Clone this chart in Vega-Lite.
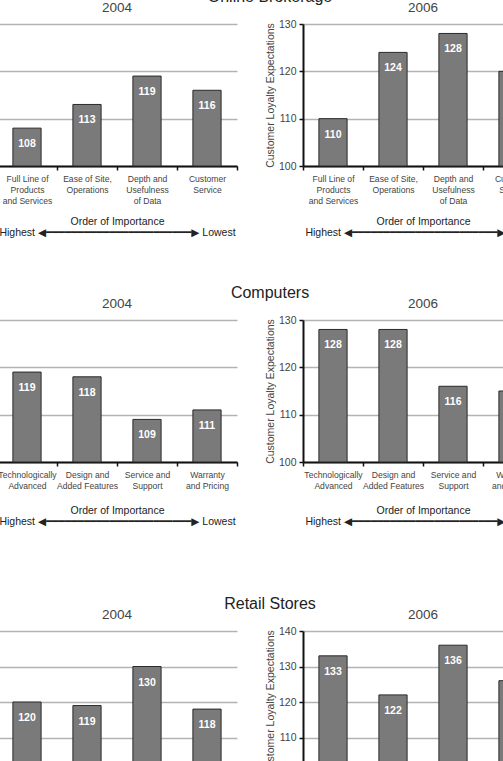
{
  "$schema": "https://vega.github.io/schema/vega-lite/v6.json",
  "padding": {"top": -12, "left": -4, "right": 0, "bottom": 0},
  "datasets": {
    "brokerage": [
      {"year": 2004, "attribute": "Full Line of|Products|and Services", "value": 108},
      {"year": 2004, "attribute": "Ease of Site,|Operations", "value": 113},
      {"year": 2004, "attribute": "Depth and|Usefulness|of Data", "value": 119},
      {"year": 2004, "attribute": "Customer|Service", "value": 116},
      {"year": 2006, "attribute": "Full Line of|Products|and Services", "value": 110},
      {"year": 2006, "attribute": "Ease of Site,|Operations", "value": 124},
      {"year": 2006, "attribute": "Depth and|Usefulness|of Data", "value": 128},
      {"year": 2006, "attribute": "Customer|Service", "value": 120}
    ],
    "computers": [
      {"year": 2004, "attribute": "Technologically|Advanced", "value": 119},
      {"year": 2004, "attribute": "Design and|Added Features", "value": 118},
      {"year": 2004, "attribute": "Service and|Support", "value": 109},
      {"year": 2004, "attribute": "Warranty|and Pricing", "value": 111},
      {"year": 2006, "attribute": "Technologically|Advanced", "value": 128},
      {"year": 2006, "attribute": "Design and|Added Features", "value": 128},
      {"year": 2006, "attribute": "Service and|Support", "value": 116},
      {"year": 2006, "attribute": "Warranty|and Pricing", "value": 115}
    ],
    "retail": [
      {"year": 2004, "attribute": "Attribute 1", "value": 120},
      {"year": 2004, "attribute": "Attribute 2", "value": 119},
      {"year": 2004, "attribute": "Attribute 3", "value": 130},
      {"year": 2004, "attribute": "Attribute 4", "value": 118},
      {"year": 2006, "attribute": "Attribute 1", "value": 133},
      {"year": 2006, "attribute": "Attribute 2", "value": 122},
      {"year": 2006, "attribute": "Attribute 3", "value": 136},
      {"year": 2006, "attribute": "Attribute 4", "value": 126}
    ]
  },
  "vconcat": [
    {
      "spacing": 46,
      "vconcat": [
        {
          "title": {"text": "Online Brokerage", "fontSize": 16, "fontWeight": "normal", "color": "#222", "anchor": "middle", "offset": -4},
          "spacing": 27,
          "hconcat": [
            {
              "title": {"text": "2004", "fontSize": 13.5, "fontWeight": "normal", "color": "#444", "frame": "group", "baseline": "bottom", "offset": -4},
              "width": 240, "height": 142,
              "data": {"name": "brokerage"},
              "transform": [{"filter": "datum.year == 2004"}],
              "encoding": {
                "x": {"field": "attribute", "type": "nominal", "sort": null, "scale": {"paddingInner": 0, "paddingOuter": 0},
                  "axis": {"title": ["Order of Importance", "Highest ◀━━━━━━━━━━━━━━━━━━━━━━━▶ Lowest"], "titlePadding": 11.5}},
                "y": {"field": "value", "type": "quantitative", "scale": {"domain": [100, 130], "nice": false, "zero": false},
                  "axis": {"values": [100, 110, 120, 130], "grid": true, "domain": false, "ticks": false, "labels": false, "title": null}}
              },
              "layer": [
                {"mark": {"type": "bar", "width": {"band": 0.47}, "fill": "#7a7a7a", "stroke": "#2a2a2a", "strokeWidth": 1}, "encoding": {"y2": {"datum": 100}}},
                {"mark": {"type": "text", "baseline": "middle", "dy": 16, "color": "white", "fontWeight": "bold", "fontSize": 10.5}, "encoding": {"text": {"field": "value"}}}
              ]
            },
            {
              "title": {"text": "2006", "fontSize": 13.5, "fontWeight": "normal", "color": "#444", "frame": "group", "baseline": "bottom", "offset": -9},
              "width": 240, "height": 142,
              "data": {"name": "brokerage"},
              "transform": [{"filter": "datum.year == 2006"}],
              "encoding": {
                "x": {"field": "attribute", "type": "nominal", "sort": null, "scale": {"paddingInner": 0, "paddingOuter": 0},
                  "axis": {"title": ["Order of Importance", "Highest ◀━━━━━━━━━━━━━━━━━━━━━━━▶ Lowest"], "titlePadding": 11.5}},
                "y": {"field": "value", "type": "quantitative", "scale": {"domain": [100, 130], "nice": false, "zero": false},
                  "axis": {"values": [100, 110, 120, 130], "grid": true, "title": "Customer Loyalty Expectations"}}
              },
              "layer": [
                {"mark": {"type": "bar", "width": {"band": 0.47}, "fill": "#7a7a7a", "stroke": "#2a2a2a", "strokeWidth": 1}, "encoding": {"y2": {"datum": 100}}},
                {"mark": {"type": "text", "baseline": "middle", "dy": 16, "color": "white", "fontWeight": "bold", "fontSize": 10.5}, "encoding": {"text": {"field": "value"}}}
              ]
            }
          ]
        },
        {
          "title": {"text": "Computers", "fontSize": 16, "fontWeight": "normal", "color": "#222", "anchor": "middle", "offset": -4},
          "spacing": 27,
          "hconcat": [
            {
              "title": {"text": "2004", "fontSize": 13.5, "fontWeight": "normal", "color": "#444", "frame": "group", "baseline": "bottom", "offset": -4},
              "width": 240, "height": 142,
              "data": {"name": "computers"},
              "transform": [{"filter": "datum.year == 2004"}],
              "encoding": {
                "x": {"field": "attribute", "type": "nominal", "sort": null, "scale": {"paddingInner": 0, "paddingOuter": 0},
                  "axis": {"title": ["Order of Importance", "Highest ◀━━━━━━━━━━━━━━━━━━━━━━━▶ Lowest"], "titlePadding": 16}},
                "y": {"field": "value", "type": "quantitative", "scale": {"domain": [100, 130], "nice": false, "zero": false},
                  "axis": {"values": [100, 110, 120, 130], "grid": true, "domain": false, "ticks": false, "labels": false, "title": null}}
              },
              "layer": [
                {"mark": {"type": "bar", "width": {"band": 0.47}, "fill": "#7a7a7a", "stroke": "#2a2a2a", "strokeWidth": 1}, "encoding": {"y2": {"datum": 100}}},
                {"mark": {"type": "text", "baseline": "middle", "dy": 16, "color": "white", "fontWeight": "bold", "fontSize": 10.5}, "encoding": {"text": {"field": "value"}}}
              ]
            },
            {
              "title": {"text": "2006", "fontSize": 13.5, "fontWeight": "normal", "color": "#444", "frame": "group", "baseline": "bottom", "offset": -9},
              "width": 240, "height": 142,
              "data": {"name": "computers"},
              "transform": [{"filter": "datum.year == 2006"}],
              "encoding": {
                "x": {"field": "attribute", "type": "nominal", "sort": null, "scale": {"paddingInner": 0, "paddingOuter": 0},
                  "axis": {"title": ["Order of Importance", "Highest ◀━━━━━━━━━━━━━━━━━━━━━━━▶ Lowest"], "titlePadding": 16}},
                "y": {"field": "value", "type": "quantitative", "scale": {"domain": [100, 130], "nice": false, "zero": false},
                  "axis": {"values": [100, 110, 120, 130], "grid": true, "title": "Customer Loyalty Expectations"}}
              },
              "layer": [
                {"mark": {"type": "bar", "width": {"band": 0.47}, "fill": "#7a7a7a", "stroke": "#2a2a2a", "strokeWidth": 1}, "encoding": {"y2": {"datum": 100}}},
                {"mark": {"type": "text", "baseline": "middle", "dy": 16, "color": "white", "fontWeight": "bold", "fontSize": 10.5}, "encoding": {"text": {"field": "value"}}}
              ]
            }
          ]
        }
      ]
    },
    {
      "title": {"text": "Retail Stores", "fontSize": 16, "fontWeight": "normal", "color": "#222", "anchor": "middle", "offset": -4},
      "spacing": 27,
      "hconcat": [
        {
          "title": {"text": "2004", "fontSize": 13.5, "fontWeight": "normal", "color": "#444", "frame": "group", "baseline": "bottom", "offset": -4},
          "width": 240, "height": 142,
          "data": {"name": "retail"},
          "transform": [{"filter": "datum.year == 2004"}],
          "encoding": {
            "x": {"field": "attribute", "type": "nominal", "sort": null, "scale": {"paddingInner": 0, "paddingOuter": 0},
              "axis": {"title": ["Order of Importance", "Highest ◀━━━━━━━━━━━━━━━━━━━━━━━▶ Lowest"], "titlePadding": 16}},
            "y": {"field": "value", "type": "quantitative", "scale": {"domain": [100, 140], "nice": false, "zero": false},
              "axis": {"values": [100, 110, 120, 130, 140], "grid": true, "domain": false, "ticks": false, "labels": false, "title": null}}
          },
          "layer": [
            {"mark": {"type": "bar", "width": {"band": 0.47}, "fill": "#7a7a7a", "stroke": "#2a2a2a", "strokeWidth": 1}, "encoding": {"y2": {"datum": 100}}},
            {"mark": {"type": "text", "baseline": "middle", "dy": 16, "color": "white", "fontWeight": "bold", "fontSize": 10.5}, "encoding": {"text": {"field": "value"}}}
          ]
        },
        {
          "title": {"text": "2006", "fontSize": 13.5, "fontWeight": "normal", "color": "#444", "frame": "group", "baseline": "bottom", "offset": -9},
          "width": 240, "height": 142,
          "data": {"name": "retail"},
          "transform": [{"filter": "datum.year == 2006"}],
          "encoding": {
            "x": {"field": "attribute", "type": "nominal", "sort": null, "scale": {"paddingInner": 0, "paddingOuter": 0},
              "axis": {"title": ["Order of Importance", "Highest ◀━━━━━━━━━━━━━━━━━━━━━━━▶ Lowest"], "titlePadding": 16}},
            "y": {"field": "value", "type": "quantitative", "scale": {"domain": [100, 140], "nice": false, "zero": false},
              "axis": {"values": [100, 110, 120, 130, 140], "grid": true, "title": "Customer Loyalty Expectations"}}
          },
          "layer": [
            {"mark": {"type": "bar", "width": {"band": 0.47}, "fill": "#7a7a7a", "stroke": "#2a2a2a", "strokeWidth": 1}, "encoding": {"y2": {"datum": 100}}},
            {"mark": {"type": "text", "baseline": "middle", "dy": 16, "color": "white", "fontWeight": "bold", "fontSize": 10.5}, "encoding": {"text": {"field": "value"}}}
          ]
        }
      ]
    }
  ],
  "config": {
    "font": "Liberation Sans",
    "view": {"stroke": null},
    "concat": {"spacing": 68},
    "axisX": {
      "labelExpr": "split(datum.label, '|')",
      "labelAngle": 0,
      "labelFont": "Liberation Sans",
      "labelFontSize": 8.6,
      "labelLineHeight": 11.3,
      "labelColor": "#444",
      "labelPadding": 4,
      "tickBand": "extent",
      "domainColor": "#111",
      "domainWidth": 2,
      "tickColor": "#111",
      "tickWidth": 1.5,
      "tickSize": 4,
      "titleFont": "Liberation Sans, DejaVu Sans",
      "titleFontSize": 10.5,
      "titleFontWeight": "normal",
      "titleColor": "#222",
      "titleLineHeight": 10.6,
      "zindex": 1,
      "grid": false
    },
    "axisY": {
      "gridColor": "#b3b3b3",
      "gridWidth": 1.5,
      "domainColor": "#111",
      "domainWidth": 2,
      "tickColor": "#111",
      "tickWidth": 1.5,
      "tickSize": 4,
      "labelFontSize": 10.5,
      "labelColor": "#444",
      "labelPadding": 3,
      "titleFontSize": 10.5,
      "titleFontWeight": "normal",
      "titleColor": "#444",
      "titlePadding": 3
    }
  }
}
